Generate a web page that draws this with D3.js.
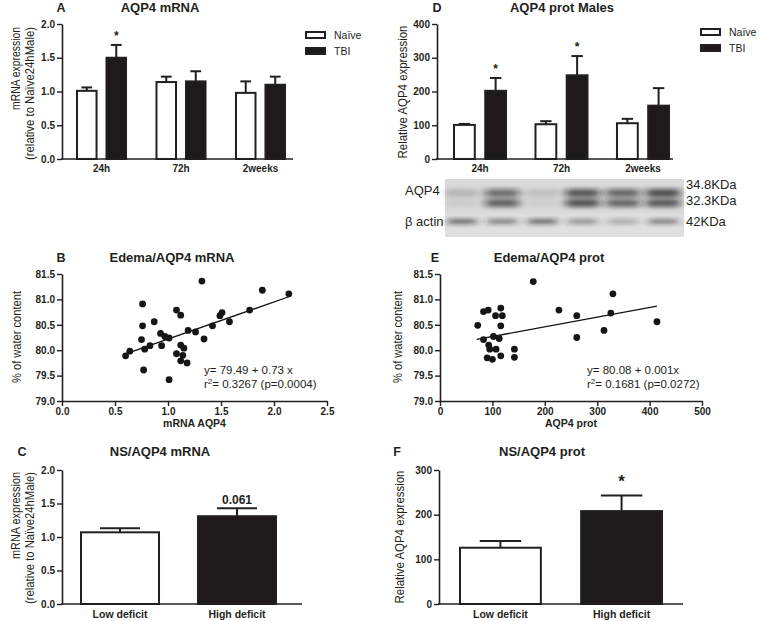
<!DOCTYPE html>
<html><head><meta charset="utf-8">
<script src="https://cdn.jsdelivr.net/npm/d3@7"></script>
<style>
body{margin:0;background:#fff}
text{font-family:"Liberation Sans",Arial,sans-serif;fill:#231f20}
</style>
</head><body>
<svg id="c" width="760" height="621"></svg>
<script>
// ---------- DATA ----------
const timepoints = ["24h", "72h", "2weeks"];
const groups = ["Naïve", "TBI"];
// Panel A: AQP4 mRNA
const mrnaNaive = [1.01, 1.14, 0.98];
const mrnaNaiveSem = [0.05, 0.08, 0.17];
const mrnaTBI = [1.50, 1.15, 1.10];
const mrnaTBISem = [0.19, 0.15, 0.12];
const mrnaStars = ["", "*", "", "", "", ""]; // order: per timepoint [Naive,TBI]
const mrnaTicks = [0, 0.5, 1.0, 1.5, 2.0];
// Panel D: AQP4 protein males
const protNaive = [101, 103, 106];
const protNaiveSem = [3, 9, 13];
const protTBI = [202, 248, 158];
const protTBISem = [38, 57, 52];
const protStars = ["", "*", "", "*", "", ""];
const protTicks = [0, 100, 200, 300, 400];
// Western blot band intensities (6 lanes: N24, T24, N72, T72, N2w, T2w)
const blotLanes = ["N24", "T24", "N72", "T72", "N2w", "T2w"];
const blotUpper = [0.16, 0.55, 0.12, 0.66, 0.58, 0.7];
const blotLower = [0.07, 0.6, 0.06, 0.68, 0.58, 0.64];
const blotActin = [0.6, 0.5, 0.6, 0.42, 0.3, 0.5];
// Panel B: Edema vs AQP4 mRNA
const mrnaX = [0.60,0.64,0.76,0.76,0.75,0.77,0.78,0.83,0.87,0.93,0.94,0.97,1.01,1.01,1.08,1.08,1.12,1.12,1.12,1.14,1.15,1.18,1.19,1.26,1.32,1.34,1.42,1.49,1.51,1.58,1.77,1.89,2.14];
const edemaB = [79.89,79.98,80.91,80.48,80.21,79.61,80.02,80.09,80.56,80.33,80.09,80.27,80.24,79.42,80.79,79.93,79.79,80.69,80.10,79.90,80.04,79.75,80.39,80.36,81.36,80.22,80.48,80.68,80.74,80.56,80.79,81.18,81.11];
const fitB = {intercept: 79.49, slope: 0.73, xmin: 0.60, xmax: 2.14};
const eqB = ["y= 79.49 + 0.73 x", "= 0.3267 (p=0.0004)"];
const mrnaXTicks = [0, 0.5, 1.0, 1.5, 2.0, 2.5];
const edemaTicks = [79.0, 79.5, 80.0, 80.5, 81.0, 81.5];
// Panel E: Edema vs AQP4 protein
const protX = [72,83,83,92,93,90,95,100,102,106,107,113,116,116,116,119,142,142,178,227,261,261,313,326,330,414];
const edemaE = [80.49,80.76,80.21,80.79,80.10,79.85,80.02,79.82,80.27,80.68,80.02,80.23,80.83,80.48,79.89,80.68,80.02,79.86,81.35,80.79,80.68,80.25,80.39,80.73,81.11,80.56];
const fitE = {intercept: 80.08, slope: 0.0019, xmin: 70, xmax: 414};
const eqE = ["y= 80.08 + 0.001x", "= 0.1681 (p=0.0272)"];
const protXTicks = [0, 100, 200, 300, 400, 500];
// Panel C & F: neurological score groups
const deficit = ["Low deficit", "High deficit"];
const nsMrna = [1.07, 1.31];
const nsMrnaSem = [0.06, 0.12];
const nsMrnaNote = ["", "0.061"];
const nsProt = [126, 208];
const nsProtSem = [15, 35];
const nsProtNote = ["", "*"];
const nsProtTicks = [0, 100, 200, 300];

// ---------- HELPERS ----------
const INK = "#231f20", DARK = "#1e1a1b";
const svg = d3.select("#c");
const FONT = '"Liberation Sans", Arial, sans-serif';

function styleAxis(ax) {
  ax.attr("font-family", FONT).attr("font-size", 10);
  ax.select(".domain").attr("stroke", INK).attr("stroke-width", 1.6);
  ax.selectAll(".tick line").attr("stroke", INK).attr("stroke-width", 1.4);
  ax.selectAll(".tick text").attr("fill", INK).attr("font-weight", "bold");
  return ax;
}
function yAxis(x, y, ticks, fmt) {
  return styleAxis(svg.append("g").attr("transform", `translate(${x},0)`)
    .call(d3.axisLeft(y).tickValues(ticks).tickFormat(d3.format(fmt)).tickSize(5).tickSizeOuter(0).tickPadding(2)));
}
function text(x, y, s, opts = {}) {
  const t = svg.append("text").attr("x", x).attr("y", y).text(s)
    .attr("font-size", opts.size || 12)
    .attr("font-weight", opts.bold ? "bold" : "normal")
    .attr("text-anchor", opts.anchor || "start");
  if (opts.len) t.attr("textLength", opts.len).attr("lengthAdjust", "spacingAndGlyphs");
  return t;
}
function vtext(x, y, s, opts = {}) {
  const t = svg.append("text").attr("transform", `translate(${x},${y}) rotate(-90)`)
    .attr("dy", "0.35em").text(s)
    .attr("font-size", opts.size || 12)
    .attr("text-anchor", opts.anchor || "middle");
  if (opts.len) t.attr("textLength", opts.len).attr("lengthAdjust", "spacingAndGlyphs");
  return t;
}
function bar(x, w, y, v, sem, fill) {
  const top = y(v), base = y(0), cx = x + w / 2;
  svg.append("line").attr("x1", cx).attr("x2", cx).attr("y1", top).attr("y2", y(v + sem))
    .attr("stroke", INK).attr("stroke-width", 2);
  svg.append("line").attr("x1", cx - w / 4).attr("x2", cx + w / 4).attr("y1", y(v + sem)).attr("y2", y(v + sem))
    .attr("stroke", INK).attr("stroke-width", 2);
  svg.append("rect").attr("x", x + 1).attr("y", top).attr("width", w - 2).attr("height", base - top)
    .attr("fill", fill).attr("stroke", INK).attr("stroke-width", 2);
}
function xLine(x1, x2, y) {
  svg.append("line").attr("x1", x1).attr("x2", x2).attr("y1", y).attr("y2", y)
    .attr("stroke", INK).attr("stroke-width", 1.6);
}
function catLabels(xs, y) {
  const ax = svg.append("g").attr("transform", `translate(0,${y})`)
    .call(d3.axisBottom(xs).tickSize(0).tickPadding(6));
  styleAxis(ax); ax.select(".domain").remove();
  return ax;
}
function legend(x, y, gap) {
  groups.forEach((g, i) => {
    svg.append("rect").attr("x", x).attr("y", y + i * gap).attr("width", 19).attr("height", 6)
      .attr("fill", i ? DARK : "#fff").attr("stroke", INK).attr("stroke-width", 2);
    text(x + 28, y + i * gap + 7, g, {size: 10.5});
  });
}
function grouped(xOuter, y, naive, naiveSem, tbi, tbiSem, stars, starSize) {
  const xi = d3.scaleBand().domain(groups).range([0, xOuter.bandwidth()]).paddingInner(0.27);
  timepoints.forEach((t, i) => {
    [[naive, naiveSem, "#fff"], [tbi, tbiSem, DARK]].forEach(([v, s, f], j) => {
      const x = xOuter(t) + xi(groups[j]);
      bar(x, xi.bandwidth(), y, v[i], s[i], f);
      const st = stars[i * 2 + j];
      if (st) text(x + xi.bandwidth() / 2, y(v[i] + s[i]) - 5, st, {size: starSize, bold: true, anchor: "middle"});
    });
  });
}

// ---------- PANEL A ----------
{
  const y = d3.scaleLinear().domain([0, 2]).range([159, 24]);
  const x = d3.scaleBand().domain(timepoints).range([76, 286]).paddingInner(0.358);
  grouped(x, y, mrnaNaive, mrnaNaiveSem, mrnaTBI, mrnaTBISem, mrnaStars, 12);
  yAxis(62, y, mrnaTicks, ".1f");
  xLine(61, 293, 159);
  catLabels(x, 159);
  legend(306, 32, 16);
  text(61, 12, "A", {size: 12.5, bold: true, anchor: "middle"});
  text(160, 12, "AQP4 mRNA", {size: 13, bold: true, anchor: "middle"});
  vtext(15, 27, "mRNA expression", {size: 13.5, anchor: "end", len: 83});
  vtext(29, 27, "(relative to Naïve24hMale)", {size: 13.5, anchor: "end", len: 133});
}

// ---------- PANEL D ----------
{
  const y = d3.scaleLinear().domain([0, 400]).range([159, 24]);
  const x = d3.scaleBand().domain(timepoints).range([453, 670]).paddingInner(0.337);
  grouped(x, y, protNaive, protNaiveSem, protTBI, protTBISem, protStars, 12);
  yAxis(437, y, protTicks, "d");
  xLine(436, 673, 159);
  catLabels(x, 159);
  legend(701, 29, 16);
  text(437, 12, "D", {size: 12.5, bold: true, anchor: "middle"});
  text(562, 12, "AQP4 prot Males", {size: 13, bold: true, anchor: "middle"});
  vtext(402, 92, "Relative AQP4 expression", {size: 13.5, len: 133});

  // Western blot
  const defs = svg.append("defs");
  const f = defs.append("filter").attr("id", "blur").attr("x", "-50%").attr("y", "-100%").attr("width", "200%").attr("height", "300%");
  f.append("feGaussianBlur").attr("stdDeviation", "4 2.2");
  const g2 = defs.append("filter").attr("id", "blurbg");
  g2.append("feGaussianBlur").attr("stdDeviation", "6");
  const bx = d3.scalePoint().domain(blotLanes).range([462, 663]);
  svg.append("rect").attr("x", 445).attr("y", 179).attr("width", 239).attr("height", 58).attr("fill", "#dadada");
  svg.append("rect").attr("x", 445).attr("y", 214).attr("width", 239).attr("height", 23).attr("fill", "#e0e0e0");
  const bands = svg.append("g").attr("filter", "url(#blur)");
  blotLanes.forEach((l, i) => {
    bands.append("rect").attr("x", bx(l) - 17).attr("y", 189).attr("width", 34).attr("height", 8).attr("rx", 3)
      .attr("fill", "#111").attr("opacity", blotUpper[i]);
    bands.append("rect").attr("x", bx(l) - 17).attr("y", 199).attr("width", 34).attr("height", 8).attr("rx", 3)
      .attr("fill", "#111").attr("opacity", blotLower[i]);
    bands.append("rect").attr("x", bx(l) - 15).attr("y", 219).attr("width", 30).attr("height", 5).attr("rx", 2)
      .attr("fill", "#222").attr("opacity", blotActin[i]);
  });
  text(405, 195, "AQP4", {size: 13});
  text(405, 226, "β actin", {size: 13});
  text(686, 189, "34.8KDa", {size: 13});
  text(686, 205, "32.3KDa", {size: 13});
  text(686, 226, "42KDa", {size: 13});
}

// ---------- SCATTER helper ----------
function scatter(xd, yd, xDomain, xRange, xTicks, xFmt, fit, eq, eqX, xlabel, ylabelX, letter, letterX, title, titleX) {
  const x = d3.scaleLinear().domain(xDomain).range(xRange);
  const y = d3.scaleLinear().domain([79, 81.5]).range([401, 274]);
  svg.append("line").attr("x1", x(fit.xmin)).attr("x2", x(fit.xmax))
    .attr("y1", y(fit.intercept + fit.slope * fit.xmin)).attr("y2", y(fit.intercept + fit.slope * fit.xmax))
    .attr("stroke", "#111").attr("stroke-width", 1.3);
  svg.append("g").selectAll("circle").data(xd).join("circle")
    .attr("cx", d => x(d)).attr("cy", (d, i) => y(yd[i])).attr("r", 3.4).attr("fill", "#151515");
  yAxis(xRange[0], y, edemaTicks, ".1f");
  const ax = svg.append("g").attr("transform", "translate(0,401)")
    .call(d3.axisBottom(x).tickValues(xTicks).tickFormat(d3.format(xFmt)).tickSize(5).tickSizeOuter(0).tickPadding(2));
  styleAxis(ax);
  text(eqX, 374, eq[0], {size: 11.5});
  const t = text(eqX, 388, "r", {size: 11.5});
  t.append("tspan").attr("dy", -4).attr("font-size", 8).text("2");
  t.append("tspan").attr("dy", 4).text(eq[1]);
  text((xRange[0] + xRange[1]) / 2, 427, xlabel, {size: 10.5, bold: true, anchor: "middle"});
  vtext(ylabelX, 337, "% of water content", {size: 13.5, len: 92});
  text(letterX, 262, letter, {size: 12.5, bold: true, anchor: "middle"});
  text(titleX, 262, title, {size: 13, bold: true, anchor: "middle"});
}
scatter(mrnaX, edemaB, [0, 2.5], [62, 327], mrnaXTicks, ".1f", fitB, eqB, 204, "mRNA AQP4", 16, "B", 61, "Edema/AQP4 mRNA", 172);
scatter(protX, edemaE, [0, 500], [440, 702], protXTicks, "d", fitE, eqE, 587, "AQP4 prot", 397, "E", 435, "Edema/AQP4 prot", 549);

// ---------- PANEL C ----------
{
  const y = d3.scaleLinear().domain([0, 2]).range([604, 470]);
  const x = d3.scaleBand().domain(deficit).range([80, 277]).paddingInner(0.316);
  deficit.forEach((d, i) => {
    bar(x(d), x.bandwidth(), y, nsMrna[i], nsMrnaSem[i], i ? DARK : "#fff");
    if (nsMrnaNote[i]) text(x(d) + x.bandwidth() / 2, y(nsMrna[i] + nsMrnaSem[i]) - 4, nsMrnaNote[i], {size: 12, bold: true, anchor: "middle"});
  });
  yAxis(62, y, mrnaTicks, ".1f");
  xLine(61, 302, 604);
  const ax = catLabels(x, 604); ax.call(a => a.selectAll(".tick text").attr("font-size", 10.5).attr("y", 7));
  text(22, 456, "C", {size: 12.5, bold: true, anchor: "middle"});
  text(160, 456, "NS/AQP4 mRNA", {size: 13, bold: true, anchor: "middle"});
  vtext(15, 472, "mRNA expression", {size: 13.5, anchor: "end", len: 87});
  vtext(29, 472, "(relative to Naïve24hMale)", {size: 13.5, anchor: "end", len: 132});
}

// ---------- PANEL F ----------
{
  const y = d3.scaleLinear().domain([0, 300]).range([604, 470]);
  const x = d3.scaleBand().domain(deficit).range([459, 663]).paddingInner(0.316);
  deficit.forEach((d, i) => {
    bar(x(d), x.bandwidth(), y, nsProt[i], nsProtSem[i], i ? DARK : "#fff");
    if (nsProtNote[i]) text(x(d) + x.bandwidth() / 2, y(nsProt[i] + nsProtSem[i]) - 8, nsProtNote[i], {size: 17, bold: true, anchor: "middle"});
  });
  yAxis(439, y, nsProtTicks, "d");
  xLine(438, 683, 604);
  const ax = catLabels(x, 604); ax.call(a => a.selectAll(".tick text").attr("font-size", 10.5).attr("y", 7));
  text(397, 456, "F", {size: 12.5, bold: true, anchor: "middle"});
  text(542, 456, "NS/AQP4 prot", {size: 13, bold: true, anchor: "middle"});
  vtext(399, 537, "Relative AQP4 expression", {size: 13.5, len: 133});
}
</script>
</body></html>
